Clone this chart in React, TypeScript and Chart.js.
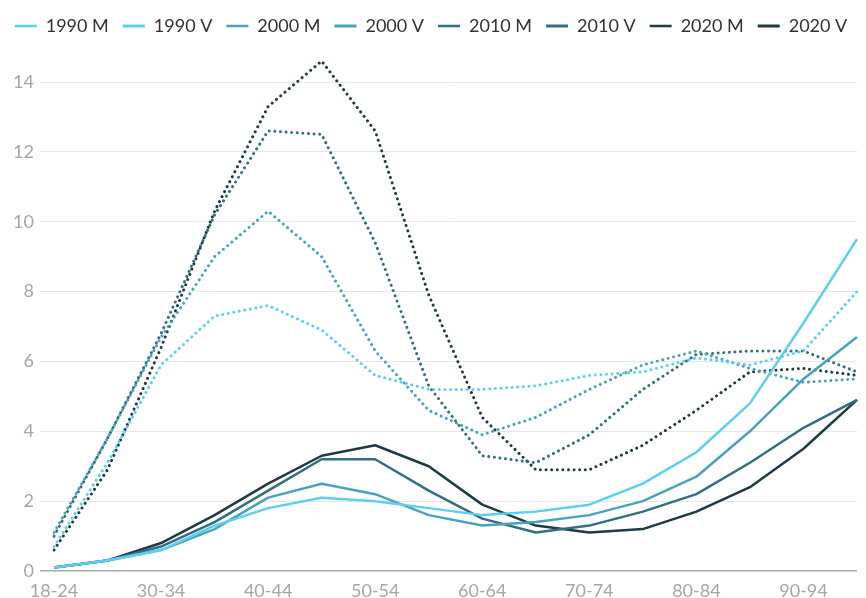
import { useEffect, useRef } from 'react';
import { Chart, registerables } from 'chart.js';

Chart.register(...registerables);

const categories = ['18-24', '25-29', '30-34', '35-39', '40-44', '45-49', '50-54', '55-59', '60-64', '65-69', '70-74', '75-79', '80-84', '85-89', '90-94', '95+'];

const m1990 = [0.1, 0.3, 0.6, 1.3, 1.8, 2.1, 2.0, 1.8, 1.6, 1.7, 1.9, 2.5, 3.4, 4.8, 7.1, 9.5];
const v1990 = [0.7, 3.1, 5.9, 7.3, 7.6, 6.9, 5.6, 5.2, 5.2, 5.3, 5.6, 5.7, 6.1, 5.9, 6.3, 8.0];
const m2000 = [0.1, 0.3, 0.6, 1.2, 2.1, 2.5, 2.2, 1.6, 1.3, 1.4, 1.6, 2.0, 2.7, 4.0, 5.5, 6.7];
const v2000 = [1.1, 3.8, 6.7, 9.0, 10.3, 9.0, 6.3, 4.6, 3.9, 4.4, 5.2, 5.9, 6.3, 5.8, 5.4, 5.5];
const m2010 = [0.1, 0.3, 0.7, 1.4, 2.3, 3.2, 3.2, 2.3, 1.5, 1.1, 1.3, 1.7, 2.2, 3.1, 4.1, 4.9];
const v2010 = [1.0, 3.8, 6.8, 10.2, 12.6, 12.5, 9.4, 5.3, 3.3, 3.1, 3.9, 5.2, 6.2, 6.3, 6.3, 5.7];
const m2020 = [0.1, 0.3, 0.8, 1.6, 2.5, 3.3, 3.6, 3.0, 1.9, 1.3, 1.1, 1.2, 1.7, 2.4, 3.5, 4.9];
const v2020 = [0.6, 2.9, 6.4, 10.3, 13.3, 14.6, 12.6, 7.9, 4.4, 2.9, 2.9, 3.6, 4.6, 5.7, 5.8, 5.6];

const seriesNames = ['1990 M', '1990 V', '2000 M', '2000 V', '2010 M', '2010 V', '2020 M', '2020 V'];
const seriesValues = [m1990, v1990, m2000, v2000, m2010, v2010, m2020, v2020];
const seriesColors = ['#5ccff0', '#5ccff0', '#4aa2ba', '#4aa2ba', '#336f7e', '#336f7e', '#1f3a45', '#1f3a45'];
const seriesDotted = [false, true, false, true, false, true, false, true];

export default function App() {
  const ref = useRef<HTMLCanvasElement | null>(null);

  useEffect(() => {
    if (!ref.current) return;
    const chart = new Chart(ref.current, {
      type: 'line',
      data: {
        labels: categories,
        datasets: seriesNames.map((name, i) => ({
          label: name,
          data: seriesValues[i],
          borderColor: seriesColors[i],
          backgroundColor: seriesColors[i],
          borderWidth: seriesDotted[i] ? 3 : 2.5,
          borderDash: seriesDotted[i] ? [0.01, 5.6] : [],
          borderCapStyle: seriesDotted[i] ? 'round' : 'butt',
          borderJoinStyle: 'round',
          pointRadius: 0,
          pointHoverRadius: 0,
          tension: 0,
          fill: false,
        })),
      },
      options: {
        responsive: false,
        animation: false,
        layout: { padding: { left: 0, right: 4, top: 3, bottom: 0 } },
        plugins: {
          tooltip: { enabled: false },
          legend: {
            position: 'top',
            labels: {
              usePointStyle: true,
              pointStyle: 'line',
              pointStyleWidth: 22,
              boxHeight: 18,
              padding: 14,
              color: '#333333',
              font: { family: 'Lato', size: 18 },
            },
          },
        },
        scales: {
          x: {
            type: 'category',
            offset: false,
            afterFit: (s: any) => { s.height = 27; },
            grid: { display: false, drawTicks: false },
            border: { display: false },
            ticks: {
              autoSkip: false,
              maxRotation: 0,
              padding: 9,
              color: '#a6a6a6',
              font: { family: 'Lato', size: 18 },
              callback: (_v: any, idx: number) => (idx % 2 === 0 ? categories[idx] : ''),
            },
          },
          y: {
            min: 0,
            max: 15.06,
            afterFit: (s: any) => { s.width = 54; },
            grid: {
              drawTicks: true,
              tickLength: 14,
              color: (c: any) => (c.tick && c.tick.value === 0 ? '#a9a9a9' : '#e6e6e6'),
              tickColor: (c: any) => (c.tick && c.tick.value === 0 ? '#a9a9a9' : '#e6e6e6'),
              lineWidth: (c: any) => (c.tick && c.tick.value === 0 ? 1.5 : 1),
            },
            border: { display: false },
            ticks: {
              stepSize: 2,
              includeBounds: false,
              padding: 6,
              color: '#a6a6a6',
              font: { family: 'Lato', size: 18 },
            },
          },
        },
      },
    });
    return () => chart.destroy();
  }, []);

  return (
    <div style={{ position: 'absolute', left: 0, top: 0, width: 866, height: 598 }}>
      <canvas ref={ref} width={866} height={598} style={{ width: 866, height: 598 }} />
    </div>
  );
}
